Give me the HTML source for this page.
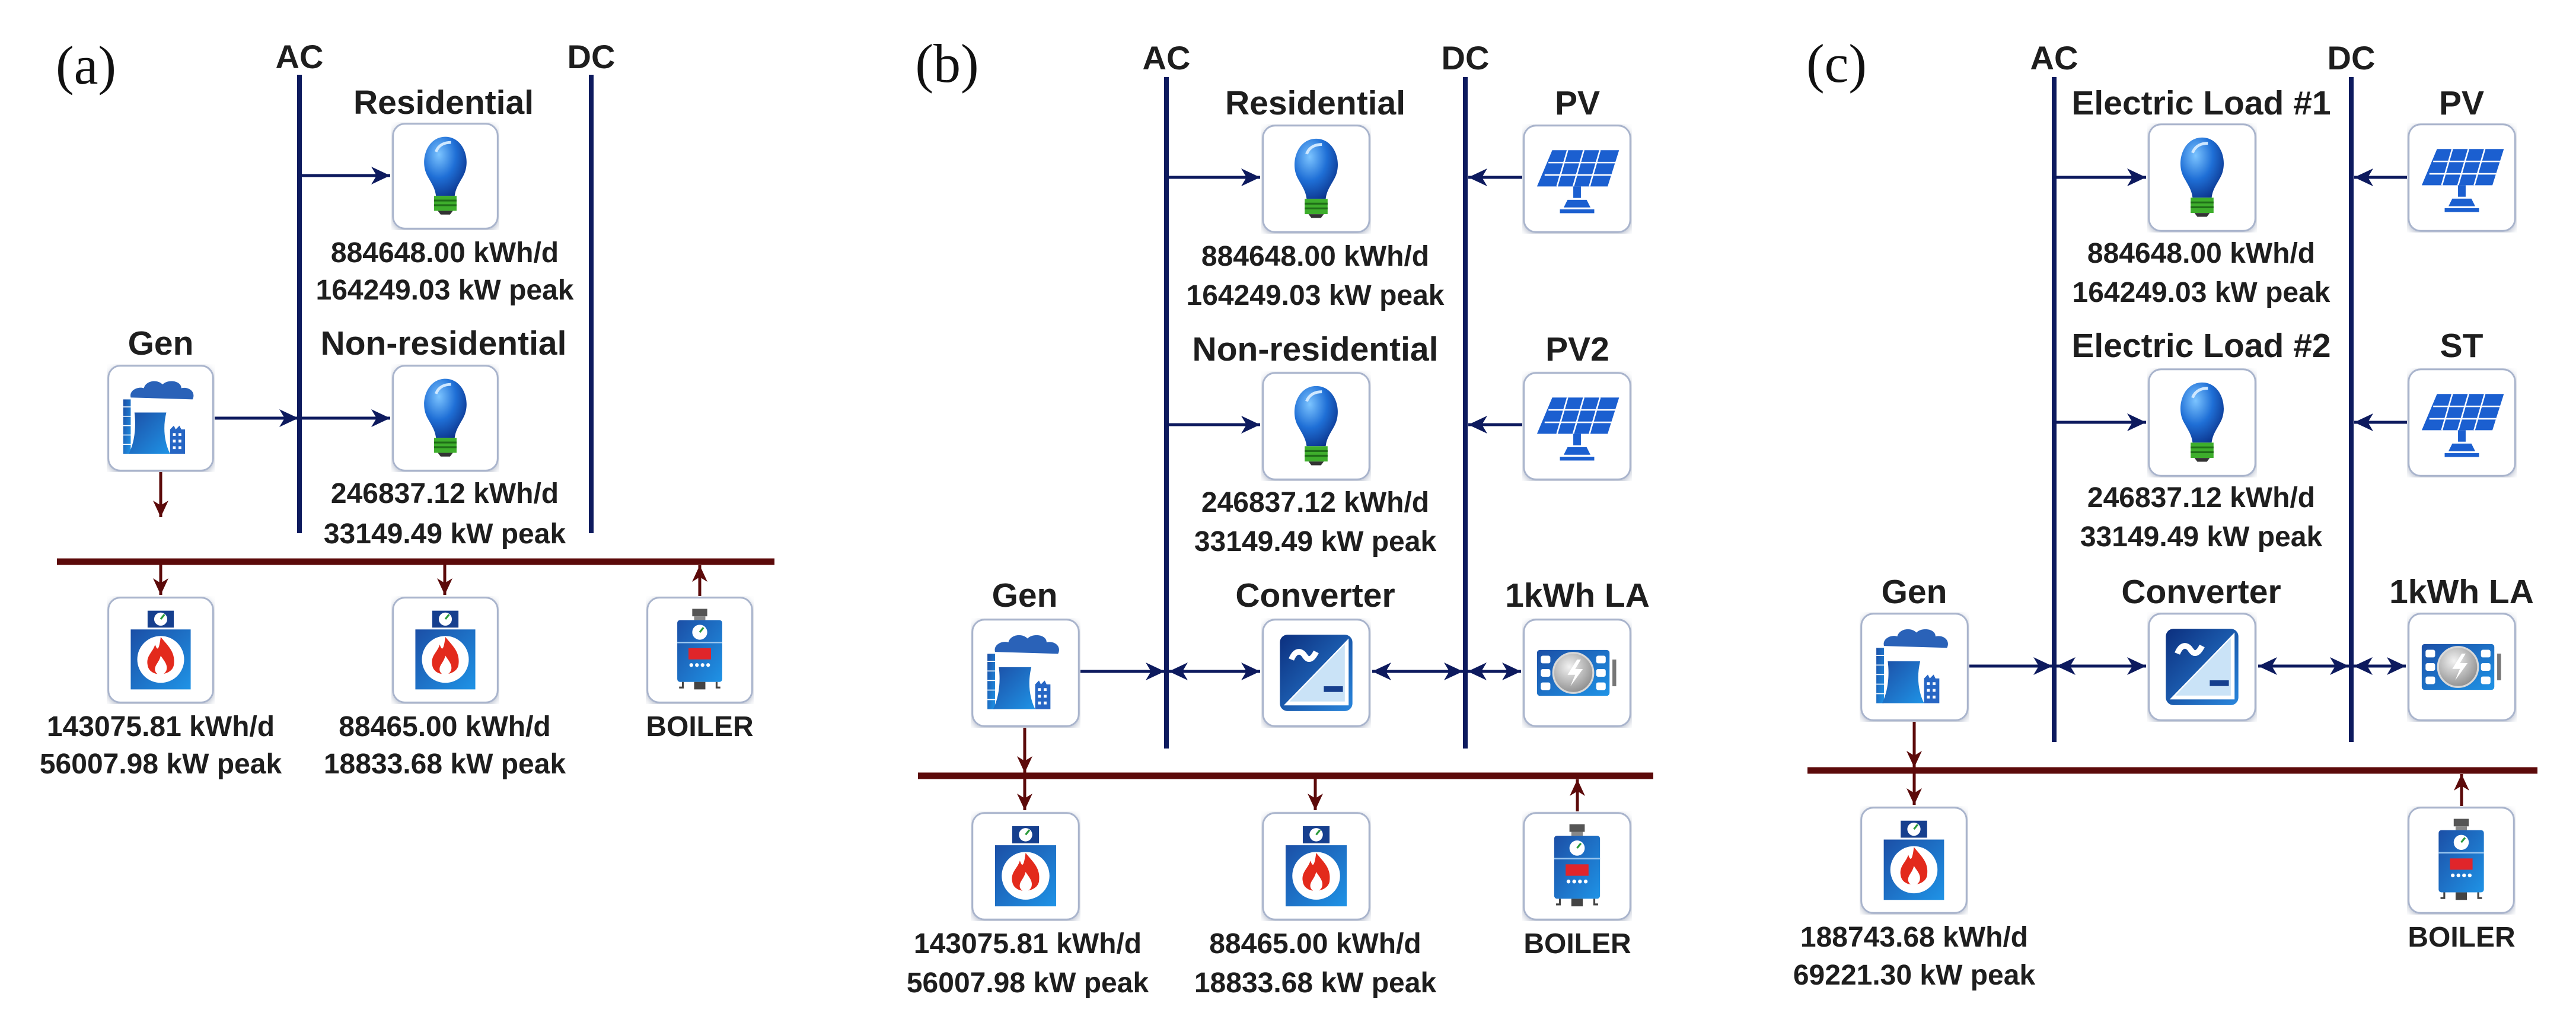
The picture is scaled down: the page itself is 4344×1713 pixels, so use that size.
<!DOCTYPE html>
<html><head><meta charset="utf-8"><style>
html,body{margin:0;padding:0;background:#fff;}
svg{display:block;}
.t{font-family:"Liberation Sans",sans-serif;font-weight:bold;fill:#1e1e1e;text-anchor:middle;}
.v{font-size:48px;}
.h{font-size:57px;}
.b{font-size:56px;}
.p{font-family:"Liberation Serif",serif;font-size:92px;fill:#111;}
.nv{stroke:#0d1a5e;stroke-width:5;fill:none;}
.bus{stroke:#0d1a5e;stroke-width:8;}
.br{stroke:#5c0a0a;stroke-width:5;fill:none;}
.bbus{stroke:#5c0a0a;stroke-width:11;}
</style></head><body>
<svg width="4344" height="1713" viewBox="0 0 4344 1713" xmlns="http://www.w3.org/2000/svg">
<defs>
<marker id="an" markerUnits="userSpaceOnUse" markerWidth="34" markerHeight="30" refX="32" refY="15" orient="auto-start-reverse"><path d="M0,0 L32,15 L0,30 L9,15 Z" fill="#0d1a5e"/></marker>
<marker id="ab" markerUnits="userSpaceOnUse" markerWidth="30" markerHeight="26" refX="28" refY="13" orient="auto-start-reverse"><path d="M0,0 L28,13 L0,26 L8,13 Z" fill="#5c0a0a"/></marker>
<radialGradient id="gb" cx="0.35" cy="0.3" r="0.8"><stop offset="0" stop-color="#7cc4ff"/><stop offset="0.5" stop-color="#1f6fd6"/><stop offset="1" stop-color="#0a2f86"/></radialGradient>
<linearGradient id="gv" x1="0" y1="0" x2="1" y2="1"><stop offset="0" stop-color="#0c2f7e"/><stop offset="1" stop-color="#2a86dc"/></linearGradient>
<linearGradient id="gl" x1="0" y1="0" x2="1" y2="1"><stop offset="0" stop-color="#1c4fa6"/><stop offset="1" stop-color="#1f93e6"/></linearGradient>
<radialGradient id="gg" cx="0.4" cy="0.35" r="0.7"><stop offset="0" stop-color="#f2f2f2"/><stop offset="1" stop-color="#8a8a8a"/></radialGradient>
<filter id="sh" x="-10%" y="-10%" width="120%" height="120%"><feDropShadow dx="0" dy="2" stdDeviation="3" flood-color="#6b7a99" flood-opacity="0.5"/></filter>
<symbol id="box" viewBox="0 0 100 100"><rect x="1.5" y="1.5" width="97" height="97" rx="11" fill="#fff" stroke="#a9b4cc" stroke-width="1.6" filter="url(#sh)"/></symbol>
<symbol id="bulb" viewBox="0 0 100 100">
<path d="M31,50 C22,34 30,8 50,8 C70,8 78,34 69,50 C64,59 61,63 60,71 L40,71 C39,63 36,59 31,50Z" fill="url(#gb)"/>
<path d="M40,24 C43,16 50,14 56,14" stroke="#cfe8ff" stroke-width="3" fill="none"/>
<rect x="38" y="71" width="24" height="16" fill="#3eae2c"/>
<rect x="38" y="75" width="24" height="2" fill="#1f6e18"/><rect x="38" y="80" width="24" height="2" fill="#1f6e18"/>
<path d="M42,87 L58,87 L55,91 L45,91Z" fill="#333"/>
</symbol>
<symbol id="gen" viewBox="0 0 100 100">
<path d="M18,28 C16,20 26,16 32,18 C34,10 46,8 52,14 C58,8 72,10 72,18 C80,16 88,22 84,30 Z" fill="#2a62b8"/>
<rect x="10" y="30" width="8" height="58" fill="url(#gl)"/>
<g stroke="#fff" stroke-width="1"><line x1="10" y1="38" x2="18" y2="38"/><line x1="10" y1="48" x2="18" y2="48"/><line x1="10" y1="58" x2="18" y2="58"/><line x1="10" y1="68" x2="18" y2="68"/><line x1="10" y1="78" x2="18" y2="78"/></g>
<path d="M22,44 L56,44 C52,60 54,76 60,88 L16,88 C22,76 24,60 22,44Z" fill="url(#gl)"/>
<path d="M60,62 L64,58 L66,62 L70,58 L72,62 L76,62 L76,88 L60,88Z" fill="#2766c4"/>
<g fill="#fff"><rect x="63" y="66" width="3" height="3"/><rect x="69" y="66" width="3" height="3"/><rect x="63" y="73" width="3" height="3"/><rect x="69" y="73" width="3" height="3"/><rect x="63" y="80" width="3" height="3"/><rect x="69" y="80" width="3" height="3"/></g>
</symbol>
<symbol id="fuel" viewBox="0 0 100 100">
<rect x="36" y="8" width="28" height="18" fill="#163f8e"/>
<circle cx="50" cy="17" r="7" fill="#fff"/><line x1="50" y1="17" x2="54" y2="12" stroke="#2a9a3a" stroke-width="2"/>
<rect x="18" y="28" width="64" height="64" fill="url(#gl)"/>
<circle cx="50" cy="60" r="25" fill="#fff"/>
<path d="M50,36 C58,46 66,52 64,66 C62,78 38,80 36,66 C34,56 42,52 44,44 C46,50 48,52 50,36Z" fill="#e32a1c"/>
<path d="M50,56 C54,62 58,66 56,72 C53,78 46,78 44,72 C43,66 48,64 50,56Z" fill="#fff"/>
</symbol>
<symbol id="boil" viewBox="0 0 100 100">
<rect x="42" y="6" width="16" height="8" fill="#555"/><rect x="44" y="14" width="12" height="4" fill="#888"/>
<rect x="26" y="18" width="48" height="66" rx="3" fill="url(#gl)"/>
<circle cx="50" cy="31" r="8" fill="#fff"/><line x1="50" y1="31" x2="54" y2="26" stroke="#2a9a3a" stroke-width="2"/>
<line x1="26" y1="42" x2="74" y2="42" stroke="#9cc8f0" stroke-width="1.5"/>
<rect x="38" y="48" width="24" height="12" fill="#e0252a"/>
<g fill="#fff"><circle cx="41" cy="66" r="2"/><circle cx="47" cy="66" r="2"/><circle cx="53" cy="66" r="2"/><circle cx="59" cy="66" r="2"/></g>
<rect x="44" y="84" width="12" height="8" fill="#444"/>
<path d="M32,84 L32,90 L28,90 M68,84 L68,90 L72,90" stroke="#444" stroke-width="2" fill="none"/>
</symbol>
<symbol id="pv" viewBox="0 0 100 100">
<polygon points="24,20 94,20 82,58 8,58" fill="#1b5fd0"/>
<g stroke="#fff" stroke-width="1.6"><line x1="20" y1="33" x2="90" y2="33"/><line x1="16" y1="46" x2="86" y2="46"/>
<line x1="40" y1="20" x2="29" y2="58"/><line x1="57" y1="20" x2="46" y2="58"/><line x1="74" y1="20" x2="63" y2="58"/></g>
<rect x="46" y="58" width="8" height="12" fill="#1b5fd0"/>
<path d="M40,72 L60,72 L64,80 L36,80Z" fill="#1b5fd0"/><rect x="32" y="82" width="36" height="4" fill="#1b5fd0"/>
</symbol>
<symbol id="conv" viewBox="0 0 100 100">
<rect x="12" y="10" width="76" height="80" rx="8" fill="url(#gv)"/>
<path d="M84,14 L84,84 L16,84 Z" fill="#fff"/>
<path d="M80,20 L80,80 L22,80 Z" fill="#2b8fe0" opacity="0.25"/>
<path d="M24,36 C28,26 34,26 38,32 C42,38 46,36 50,28" stroke="#fff" stroke-width="6" fill="none"/>
<rect x="58" y="64" width="20" height="6" fill="#163f8e"/>
</symbol>
<symbol id="bat" viewBox="0 0 100 100">
<rect x="8" y="26" width="76" height="48" rx="3" fill="url(#gl)"/>
<g fill="#fff"><rect x="12" y="32" width="10" height="8" rx="2"/><rect x="12" y="46" width="10" height="8" rx="2"/><rect x="12" y="60" width="10" height="8" rx="2"/>
<rect x="70" y="32" width="10" height="8" rx="2"/><rect x="70" y="46" width="10" height="8" rx="2"/><rect x="70" y="60" width="10" height="8" rx="2"/></g>
<circle cx="46" cy="50" r="21" fill="url(#gg)" stroke="#d8d8d8" stroke-width="2"/>
<path d="M50,36 L40,52 L48,52 L43,64 L56,46 L48,46 L54,36Z" fill="#fff"/>
<rect x="87" y="36" width="4" height="28" fill="#777"/>
</symbol>
</defs>

<!-- ============ PANEL A ============ -->
<text class="p" x="145" y="141" text-anchor="middle">(a)</text>
<text class="t b" x="505" y="115">AC</text>
<text class="t b" x="997" y="115">DC</text>
<line class="bus" x1="505" y1="126" x2="505" y2="899"/>
<line class="bus" x1="997" y1="126" x2="997" y2="899"/>
<text class="t h" x="748" y="192">Residential</text>
<use href="#box" x="660" y="206" width="182" height="182"/>
<use href="#bulb" x="672" y="218" width="158" height="158"/>
<line class="nv" x1="505" y1="296" x2="658" y2="296" marker-end="url(#an)"/>
<text class="t v" x="750" y="442">884648.00 kWh/d</text>
<text class="t v" x="750" y="505">164249.03 kW peak</text>
<text class="t h" x="748" y="598">Non-residential</text>
<use href="#box" x="660" y="614" width="182" height="182"/>
<use href="#bulb" x="672" y="626" width="158" height="158"/>
<line class="nv" x1="505" y1="705" x2="658" y2="705" marker-end="url(#an)"/>
<text class="t v" x="750" y="848">246837.12 kWh/d</text>
<text class="t v" x="750" y="916">33149.49 kW peak</text>
<text class="t h" x="271" y="598">Gen</text>
<use href="#box" x="180" y="614" width="182" height="182"/>
<use href="#gen" x="192" y="626" width="158" height="158"/>
<line class="nv" x1="362" y1="705" x2="503" y2="705" marker-end="url(#an)"/>
<line class="br" x1="271" y1="796" x2="271" y2="872" marker-end="url(#ab)"/>
<line class="bbus" x1="96" y1="947" x2="1306" y2="947"/>
<line class="br" x1="271" y1="947" x2="271" y2="1003" marker-end="url(#ab)"/>
<line class="br" x1="750" y1="947" x2="750" y2="1003" marker-end="url(#ab)"/>
<line class="br" x1="1180" y1="1005" x2="1180" y2="953" marker-end="url(#ab)"/>
<use href="#box" x="180" y="1005" width="182" height="182"/>
<use href="#fuel" x="192" y="1017" width="158" height="158"/>
<use href="#box" x="660" y="1005" width="182" height="182"/>
<use href="#fuel" x="672" y="1017" width="158" height="158"/>
<use href="#box" x="1089" y="1005" width="182" height="182"/>
<use href="#boil" x="1101" y="1017" width="158" height="158"/>
<text class="t v" x="271" y="1241">143075.81 kWh/d</text>
<text class="t v" x="271" y="1304">56007.98 kW peak</text>
<text class="t v" x="750" y="1241">88465.00 kWh/d</text>
<text class="t v" x="750" y="1304">18833.68 kW peak</text>
<text class="t v" x="1180" y="1241">BOILER</text>

<!-- ============ PANEL B ============ -->
<text class="p" x="1597" y="138" text-anchor="middle">(b)</text>
<text class="t b" x="1967" y="117">AC</text>
<text class="t b" x="2471" y="117">DC</text>
<line class="bus" x1="1967" y1="130" x2="1967" y2="1262"/>
<line class="bus" x1="2471" y1="130" x2="2471" y2="1262"/>
<text class="t h" x="2218" y="193">Residential</text>
<use href="#box" x="2127" y="209" width="185" height="185"/>
<use href="#bulb" x="2139" y="221" width="161" height="161"/>
<text class="t h" x="2660" y="193">PV</text>
<use href="#box" x="2567" y="209" width="185" height="185"/>
<use href="#pv" x="2579" y="221" width="161" height="161"/>
<line class="nv" x1="1967" y1="299" x2="2125" y2="299" marker-end="url(#an)"/>
<line class="nv" x1="2567" y1="299" x2="2476" y2="299" marker-end="url(#an)"/>
<text class="t v" x="2218" y="448">884648.00 kWh/d</text>
<text class="t v" x="2218" y="514">164249.03 kW peak</text>
<text class="t h" x="2218" y="608">Non-residential</text>
<use href="#box" x="2127" y="626" width="185" height="185"/>
<use href="#bulb" x="2139" y="638" width="161" height="161"/>
<text class="t h" x="2660" y="608">PV2</text>
<use href="#box" x="2567" y="626" width="185" height="185"/>
<use href="#pv" x="2579" y="638" width="161" height="161"/>
<line class="nv" x1="1967" y1="716" x2="2125" y2="716" marker-end="url(#an)"/>
<line class="nv" x1="2567" y1="716" x2="2476" y2="716" marker-end="url(#an)"/>
<text class="t v" x="2218" y="863">246837.12 kWh/d</text>
<text class="t v" x="2218" y="929">33149.49 kW peak</text>
<text class="t h" x="1728" y="1023">Gen</text>
<use href="#box" x="1637" y="1042" width="185" height="185"/>
<use href="#gen" x="1649" y="1054" width="161" height="161"/>
<text class="t h" x="2218" y="1023">Converter</text>
<use href="#box" x="2127" y="1042" width="185" height="185"/>
<use href="#conv" x="2139" y="1054" width="161" height="161"/>
<text class="t h" x="2660" y="1023">1kWh LA</text>
<use href="#box" x="2567" y="1042" width="185" height="185"/>
<use href="#bat" x="2579" y="1054" width="161" height="161"/>
<line class="nv" x1="1822" y1="1132" x2="1964" y2="1132" marker-end="url(#an)"/>
<line class="nv" x1="1971" y1="1132" x2="2125" y2="1132" marker-start="url(#an)" marker-end="url(#an)"/>
<line class="nv" x1="2314" y1="1132" x2="2467" y2="1132" marker-start="url(#an)" marker-end="url(#an)"/>
<line class="nv" x1="2475" y1="1132" x2="2565" y2="1132" marker-start="url(#an)" marker-end="url(#an)"/>
<line class="br" x1="1728" y1="1227" x2="1728" y2="1303" marker-end="url(#ab)"/>
<line class="bbus" x1="1548" y1="1308" x2="2788" y2="1308"/>
<line class="br" x1="1728" y1="1308" x2="1728" y2="1366" marker-end="url(#ab)"/>
<line class="br" x1="2218" y1="1308" x2="2218" y2="1366" marker-end="url(#ab)"/>
<line class="br" x1="2660" y1="1368" x2="2660" y2="1314" marker-end="url(#ab)"/>
<use href="#box" x="1637" y="1368" width="185" height="185"/>
<use href="#fuel" x="1649" y="1380" width="161" height="161"/>
<use href="#box" x="2127" y="1368" width="185" height="185"/>
<use href="#fuel" x="2139" y="1380" width="161" height="161"/>
<use href="#box" x="2567" y="1368" width="185" height="185"/>
<use href="#boil" x="2579" y="1380" width="161" height="161"/>
<text class="t v" x="1733" y="1607">143075.81 kWh/d</text>
<text class="t v" x="1733" y="1673">56007.98 kW peak</text>
<text class="t v" x="2218" y="1607">88465.00 kWh/d</text>
<text class="t v" x="2218" y="1673">18833.68 kW peak</text>
<text class="t v" x="2660" y="1607">BOILER</text>

<!-- ============ PANEL C ============ -->
<text class="p" x="3097" y="138" text-anchor="middle">(c)</text>
<text class="t b" x="3464" y="117">AC</text>
<text class="t b" x="3965" y="117">DC</text>
<line class="bus" x1="3464" y1="130" x2="3464" y2="1251"/>
<line class="bus" x1="3965" y1="130" x2="3965" y2="1251"/>
<text class="t h" x="3712" y="193">Electric Load #1</text>
<use href="#box" x="3621" y="207" width="185" height="185"/>
<use href="#bulb" x="3633" y="219" width="161" height="161"/>
<text class="t h" x="4151" y="193">PV</text>
<use href="#box" x="4059" y="207" width="185" height="185"/>
<use href="#pv" x="4071" y="219" width="161" height="161"/>
<line class="nv" x1="3464" y1="299" x2="3619" y2="299" marker-end="url(#an)"/>
<line class="nv" x1="4059" y1="299" x2="3970" y2="299" marker-end="url(#an)"/>
<text class="t v" x="3712" y="443">884648.00 kWh/d</text>
<text class="t v" x="3712" y="509">164249.03 kW peak</text>
<text class="t h" x="3712" y="602">Electric Load #2</text>
<use href="#box" x="3621" y="620" width="185" height="185"/>
<use href="#bulb" x="3633" y="632" width="161" height="161"/>
<text class="t h" x="4151" y="602">ST</text>
<use href="#box" x="4059" y="620" width="185" height="185"/>
<use href="#pv" x="4071" y="632" width="161" height="161"/>
<line class="nv" x1="3464" y1="712" x2="3619" y2="712" marker-end="url(#an)"/>
<line class="nv" x1="4059" y1="712" x2="3970" y2="712" marker-end="url(#an)"/>
<text class="t v" x="3712" y="855">246837.12 kWh/d</text>
<text class="t v" x="3712" y="921">33149.49 kW peak</text>
<text class="t h" x="3228" y="1017">Gen</text>
<use href="#box" x="3136" y="1032" width="185" height="185"/>
<use href="#gen" x="3148" y="1044" width="161" height="161"/>
<text class="t h" x="3712" y="1017">Converter</text>
<use href="#box" x="3621" y="1032" width="185" height="185"/>
<use href="#conv" x="3633" y="1044" width="161" height="161"/>
<text class="t h" x="4151" y="1017">1kWh LA</text>
<use href="#box" x="4059" y="1032" width="185" height="185"/>
<use href="#bat" x="4071" y="1044" width="161" height="161"/>
<line class="nv" x1="3321" y1="1123" x2="3461" y2="1123" marker-end="url(#an)"/>
<line class="nv" x1="3468" y1="1123" x2="3619" y2="1123" marker-start="url(#an)" marker-end="url(#an)"/>
<line class="nv" x1="3808" y1="1123" x2="3961" y2="1123" marker-start="url(#an)" marker-end="url(#an)"/>
<line class="nv" x1="3969" y1="1123" x2="4057" y2="1123" marker-start="url(#an)" marker-end="url(#an)"/>
<line class="br" x1="3228" y1="1217" x2="3228" y2="1294" marker-end="url(#ab)"/>
<line class="bbus" x1="3048" y1="1299" x2="4279" y2="1299"/>
<line class="br" x1="3228" y1="1299" x2="3228" y2="1357" marker-end="url(#ab)"/>
<line class="br" x1="4151" y1="1359" x2="4151" y2="1305" marker-end="url(#ab)"/>
<use href="#box" x="3136" y="1359" width="183" height="183"/>
<use href="#fuel" x="3148" y="1371" width="159" height="159"/>
<use href="#box" x="4059" y="1359" width="183" height="183"/>
<use href="#boil" x="4071" y="1371" width="159" height="159"/>
<text class="t v" x="3228" y="1596">188743.68 kWh/d</text>
<text class="t v" x="3228" y="1660">69221.30 kW peak</text>
<text class="t v" x="4151" y="1596">BOILER</text>
</svg>
</body></html>
